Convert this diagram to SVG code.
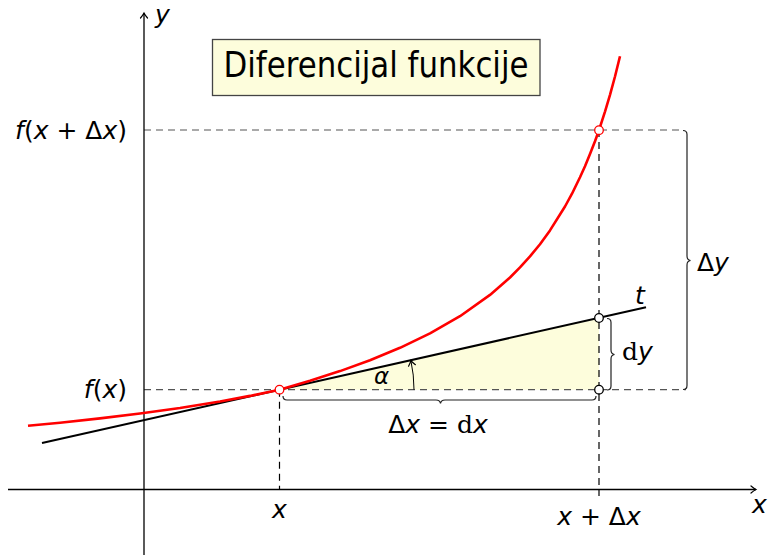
<svg xmlns="http://www.w3.org/2000/svg" width="769" height="556" viewBox="0 0 769 556">
<style>
text{font-family:"DejaVu Sans","Liberation Sans",sans-serif;fill:#000}
.lbl{font-size:25px}
.it{font-style:italic}
.rm{font-family:"DejaVu Serif","Liberation Serif",serif;font-style:normal}
.axis{stroke:#000;stroke-width:1.3;fill:none}
.hd{stroke:#555;stroke-width:1.2;stroke-dasharray:7 5;fill:none}
.vd{stroke:#000;stroke-width:1.2;stroke-dasharray:7 5;fill:none}
.brace{stroke:#222;stroke-width:1.2;fill:none}
.pt{fill:#fff;stroke-width:1.3}
</style>
<defs>
<marker id="arr" viewBox="-6 -5 8 10" markerWidth="8" markerHeight="10" refX="0" refY="0" orient="auto" markerUnits="userSpaceOnUse">
<path d="M-5,-3.5 Q-2,-1 0,0 Q-2,1 -5,3.5" fill="none" stroke="#000" stroke-width="1.2" stroke-linecap="round"/>
</marker>
</defs>
<rect width="769" height="556" fill="#fff"/>
<g id="fill-triangle"><polygon points="279.5,389.7 599,318 599,389.7" fill="#fdfddc"/></g>
<g id="connectors">
<path class="hd" d="M144,389.7 H686"/>
<path class="hd" d="M144,130 H683"/>
<path class="vd" d="M279.5,389.7 V490"/>
<path class="vd" d="M599,130 V496"/>
<path class="axis" d="M8,489.5 H756" marker-end="url(#arr)"/>
<path class="axis" d="M144,555 V13" marker-end="url(#arr)"/>
<path d="M42,443.1 L646,307.3" stroke="#000" stroke-width="2" fill="none"/>
<polyline id="curve" fill="none" stroke="#f00" stroke-width="2.6" stroke-linejoin="round" stroke-linecap="butt" points="28,425.7 60,422.7 100,418.4 140,413.5 180,408.0 220,401.5 250,395.9 279.5,389.7 310,380.85 340,371.1 370,360.2 400,347.8 430,333.4 460,316.2 490,294.9 510,277.5 520,267.4 530,256.4 540,244.2 550,230.4 565,206.5 572,193.7 580,177.3 585,166.2 590,154.1 595,141.3 599,130.2 605,111.6 610,94.8 615,76.5 620,56.3"/>
<path d="M414,389.7 A134.5,134.5 0 0 0 410.9,360.6" fill="none" stroke="#000" stroke-width="1" marker-end="url(#arr)"/>
<path class="brace" d="M683,130.5 q4,0 4,4 V256 q0,4 3.5,4.5 q-3.5,0.5 -3.5,4.5 V385.5 q0,4 -4,4"/>
<path class="brace" d="M607,318.5 q4,0 4,4 V350 q0,4 3.5,4.5 q-3.5,0.5 -3.5,4.5 V386 q0,4 -4,4"/>
<path class="brace" d="M283,396 q0,4 4,4 H436 q4,0 4.5,3.5 q0.5,-3.5 4.5,-3.5 H592 q4,0 4,-4"/>
</g>
<g id="points">
<circle class="pt" cx="279.5" cy="389.7" r="4.3" stroke="#f00"/>
<circle class="pt" cx="599" cy="130.2" r="4.3" stroke="#f00"/>
<circle class="pt" cx="599" cy="318" r="4.3" stroke="#000"/>
<circle class="pt" cx="599" cy="389.7" r="4.3" stroke="#000"/>
</g>
<g id="title">
<rect x="212.5" y="39.5" width="327.5" height="56" fill="#fdfddc" stroke="#444" stroke-width="1.3"/>
<text x="376" y="77" font-size="35" font-family="Liberation Sans, sans-serif" text-anchor="middle" textLength="305" lengthAdjust="spacingAndGlyphs">Diferencijal funkcije</text>
</g>
<g id="labels">
<text class="lbl" x="155" y="23" font-size="23"><tspan class="it">y</tspan></text>
<text class="lbl" x="752" y="513"><tspan class="it">x</tspan></text>
<text class="lbl" x="279.5" y="518" text-anchor="middle"><tspan class="it">x</tspan></text>
<text class="lbl" x="599" y="525" text-anchor="middle"><tspan class="it">x</tspan> + Δ<tspan class="it">x</tspan></text>
<text class="lbl" x="127" y="139" text-anchor="end"><tspan class="it">f</tspan>(<tspan class="it">x</tspan> + Δ<tspan class="it">x</tspan>)</text>
<text class="lbl" x="127" y="398" text-anchor="end"><tspan class="it">f</tspan>(<tspan class="it">x</tspan>)</text>
<text class="lbl" x="697" y="271">Δ<tspan class="it">y</tspan></text>
<text class="lbl" x="622" y="360"><tspan class="rm">d</tspan><tspan class="it">y</tspan></text>
<text class="lbl" x="438" y="433" text-anchor="middle">Δ<tspan class="it">x</tspan> = <tspan class="rm">d</tspan><tspan class="it">x</tspan></text>
<text class="lbl" x="635" y="304"><tspan class="it">t</tspan></text>
<text x="374" y="384" font-size="23" font-family="Liberation Serif, serif" font-style="italic">α</text>
</g>
</svg>
